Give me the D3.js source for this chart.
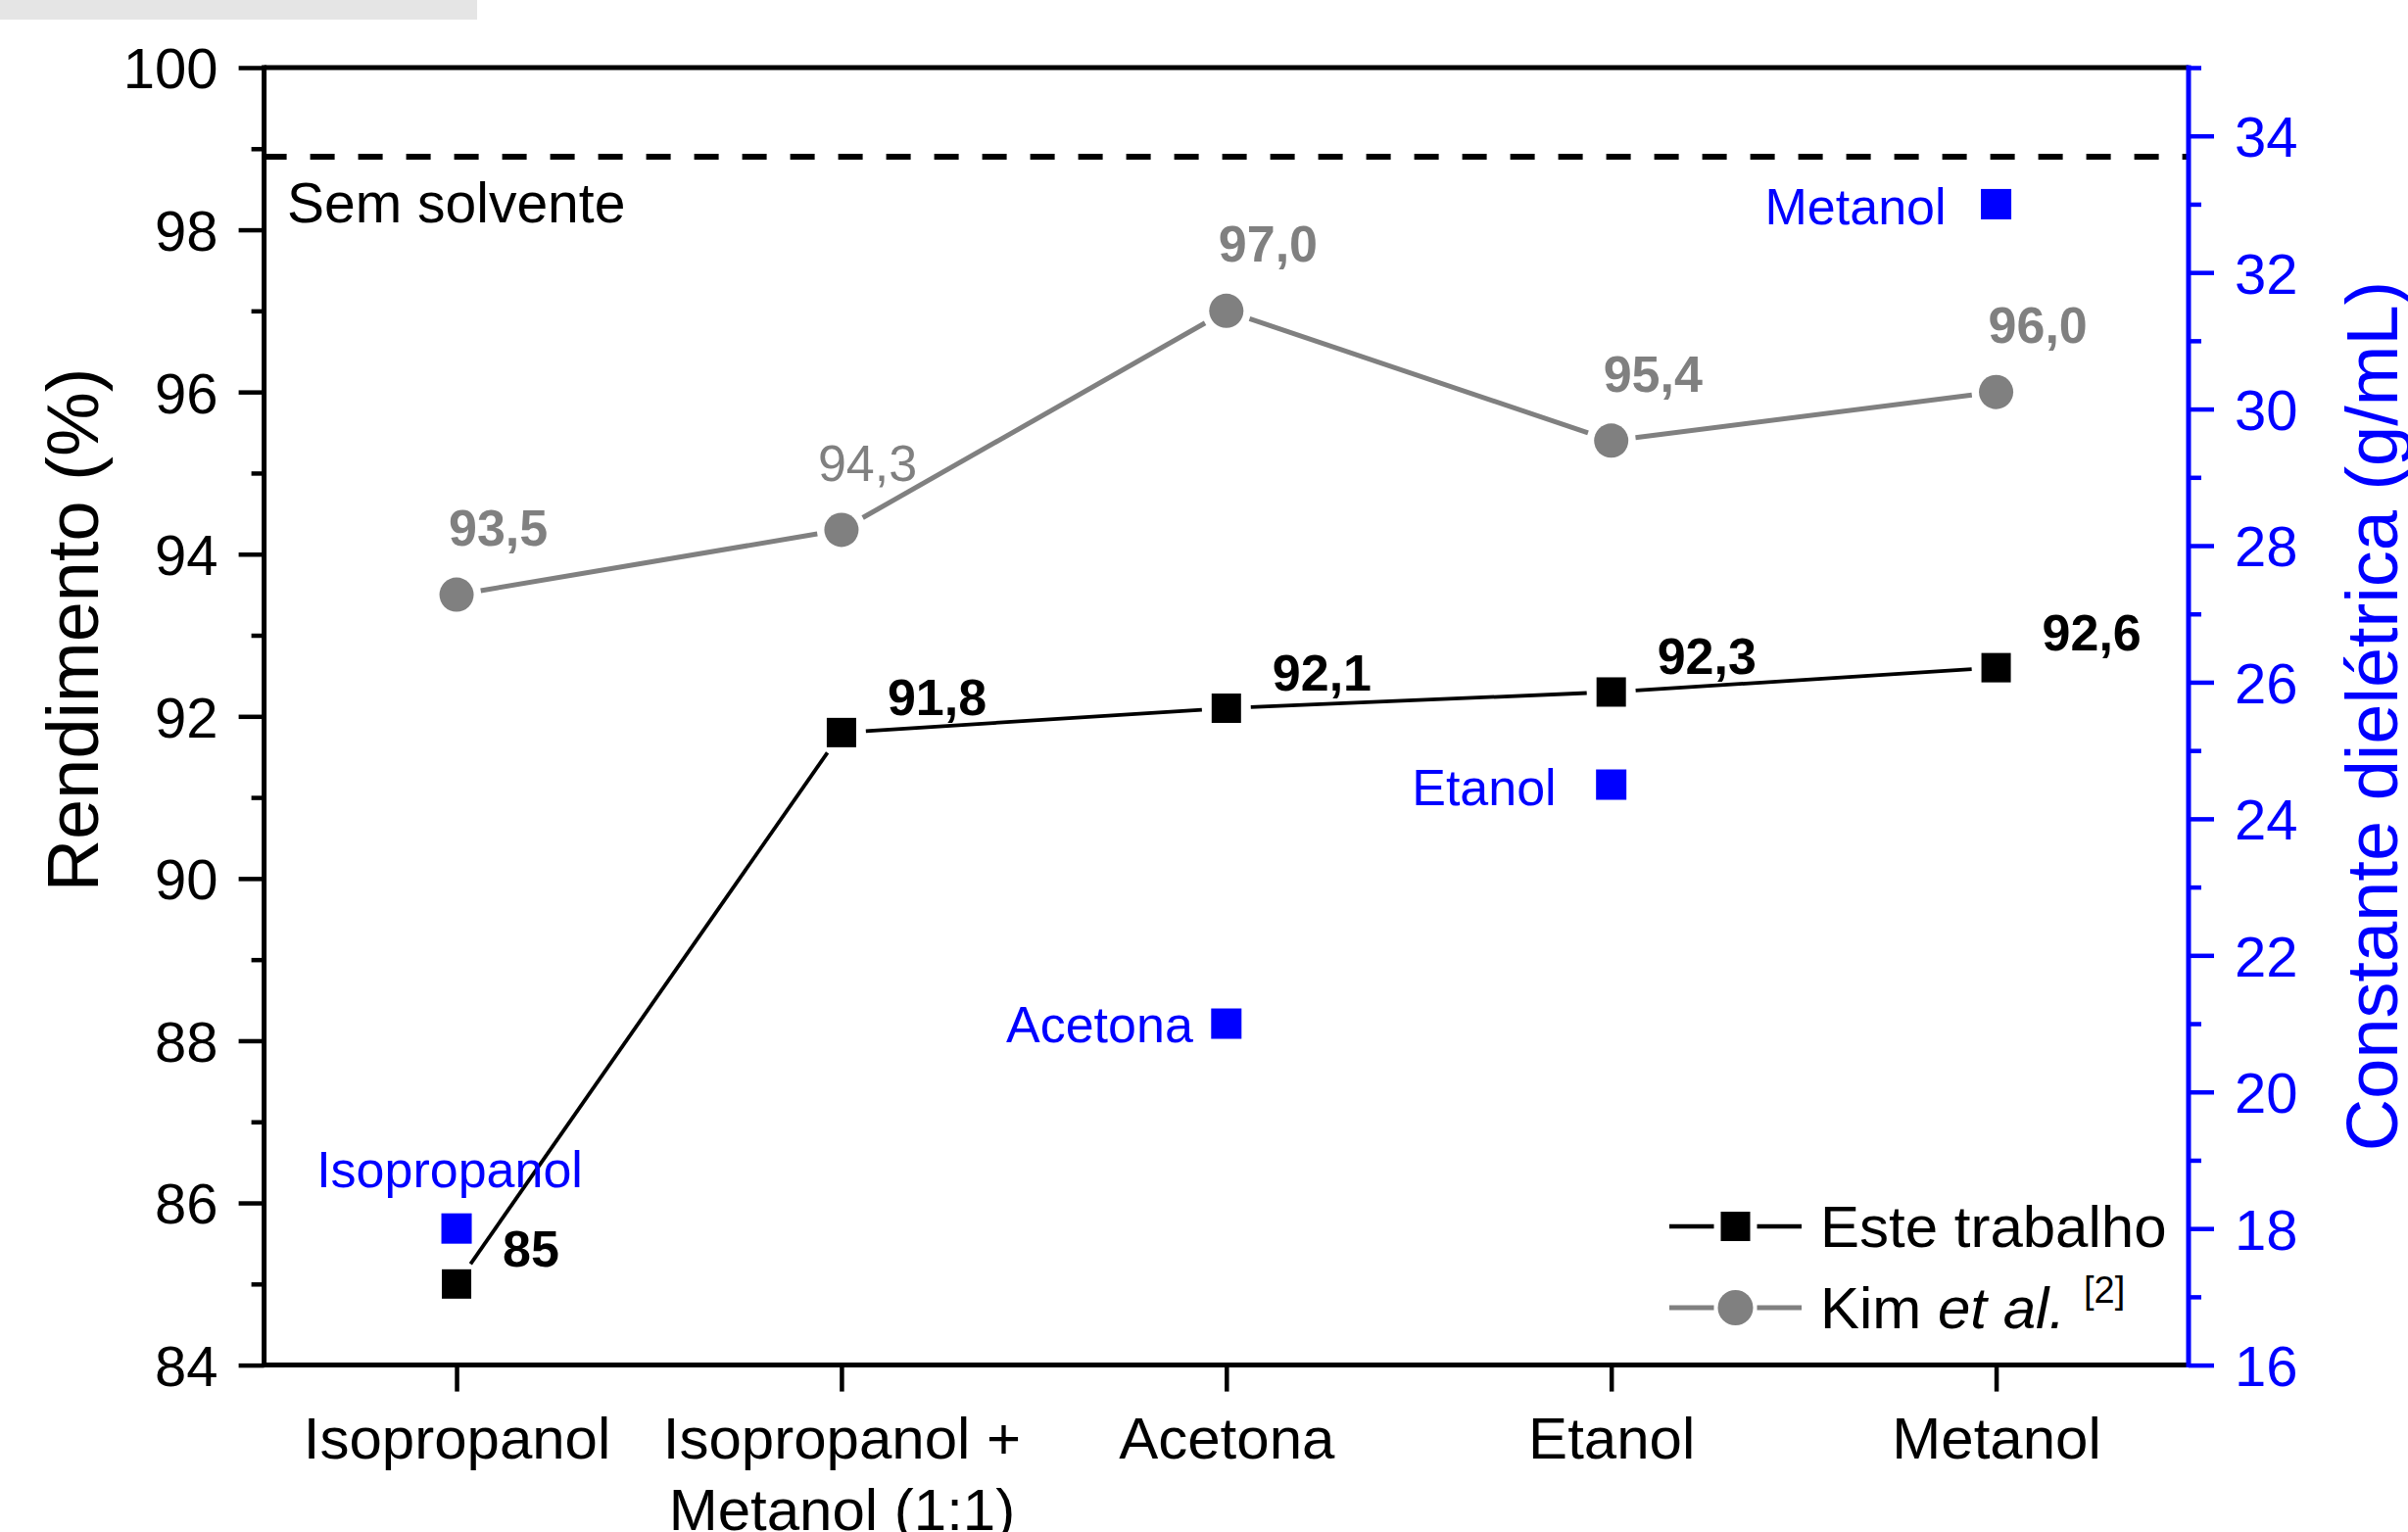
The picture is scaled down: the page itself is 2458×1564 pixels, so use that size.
<!DOCTYPE html>
<html>
<head>
<meta charset="utf-8">
<script src="https://cdn.jsdelivr.net/npm/d3@7"></script>
<style>
  html, body { margin: 0; padding: 0; background: #ffffff; }
  svg { display: block; font-family: "Liberation Sans", Arial, sans-serif; }
</style>
</head>
<body>
<svg id="chart" width="2458" height="1564"></svg>
<script>
// ---- data ----
const categories = ["Isopropanol", "Isopropanol +\nMetanol (1:1)", "Acetona", "Etanol", "Metanol"];
const esteTrabalho = [85, 91.8, 92.1, 92.3, 92.6];          // rendimento (%) deste trabalho
const kimEtAl = [93.5, 94.3, 97.0, 95.4, 96.0];             // rendimento (%) Kim et al.
const dielectricSolvents = ["Isopropanol", "Acetona", "Etanol", "Metanol"];
const dielectricCategories = ["Isopropanol", "Acetona", "Etanol", "Metanol"];
const dielectricValues = [18.0, 21.0, 24.5, 33.0];          // constante dielétrica
const semSolvente = 98.9;                                    // rendimento sem solvente
const leftTicks = [84, 86, 88, 90, 92, 94, 96, 98, 100];
const leftMinorTicks = [85, 87, 89, 91, 93, 95, 97, 99];
const rightTicks = [16, 18, 20, 22, 24, 26, 28, 30, 32, 34];
const rightMinorTicks = [17, 19, 21, 23, 25, 27, 29, 31, 33, 35];

// ---- layout ----
const W = 2458, H = 1564;
const plot = { left: 269.6, right: 2234, top: 69, bottom: 1393.6 };
const BLUE = "#0000ff", GRAY = "#808080", BLACK = "#000000";

const svg = d3.select("#chart");

const x = d3.scalePoint().domain(categories).range([plot.left, plot.right]).padding(0.5);
const yL = d3.scaleLinear().domain([84, 100]).range([plot.bottom, plot.top]);
const yR = d3.scaleLinear().domain([16, 35]).range([plot.bottom, plot.top]);

const catOf = name => categories.find(c => c.replace("\n", " ") === name || c === name);

// strip in the top-left corner
svg.append("rect").attr("x", 0).attr("y", 0).attr("width", 487).attr("height", 20).attr("fill", "#e5e5e5");

// reference line: reaction without solvent
svg.append("line")
  .attr("x1", plot.left - 2).attr("x2", plot.right)
  .attr("y1", yL(semSolvente)).attr("y2", yL(semSolvente))
  .attr("stroke", BLACK).attr("stroke-width", 6).attr("stroke-dasharray", "25,24");
svg.append("text")
  .attr("x", 293).attr("y", yL(semSolvente) + 67)
  .attr("font-size", 57).attr("fill", BLACK).text("Sem solvente");

// line segments that stop short of the symbols
function gappedSegments(values, gap) {
  const pts = values.map((v, i) => [x(categories[i]), yL(v)]);
  const segs = [];
  for (let i = 0; i < pts.length - 1; i++) {
    const [x0, y0] = pts[i], [x1, y1] = pts[i + 1];
    const len = Math.hypot(x1 - x0, y1 - y0), ux = (x1 - x0) / len, uy = (y1 - y0) / len;
    segs.push([x0 + ux * gap, y0 + uy * gap, x1 - ux * gap, y1 - uy * gap]);
  }
  return segs;
}

const gLines = svg.append("g");
gLines.selectAll("line.kim").data(gappedSegments(kimEtAl, 25)).join("line")
  .attr("class", "kim")
  .attr("x1", d => d[0]).attr("y1", d => d[1]).attr("x2", d => d[2]).attr("y2", d => d[3])
  .attr("stroke", GRAY).attr("stroke-width", 5);
gLines.selectAll("line.este").data(gappedSegments(esteTrabalho, 25)).join("line")
  .attr("class", "este")
  .attr("x1", d => d[0]).attr("y1", d => d[1]).attr("x2", d => d[2]).attr("y2", d => d[3])
  .attr("stroke", BLACK).attr("stroke-width", 3.8);

// symbols
const SQ = 30, BSQ = 31, R = 17.5;
svg.append("g").selectAll("circle").data(kimEtAl).join("circle")
  .attr("cx", (d, i) => x(categories[i])).attr("cy", d => yL(d)).attr("r", R).attr("fill", GRAY);
svg.append("g").selectAll("rect").data(esteTrabalho).join("rect")
  .attr("x", (d, i) => x(categories[i]) - SQ / 2).attr("y", d => yL(d) - SQ / 2)
  .attr("width", SQ).attr("height", SQ).attr("fill", BLACK);
svg.append("g").selectAll("rect").data(dielectricValues).join("rect")
  .attr("x", (d, i) => x(catOf(dielectricCategories[i])) - BSQ / 2).attr("y", d => yR(d) - BSQ / 2)
  .attr("width", BSQ).attr("height", BSQ).attr("fill", BLUE);

// value labels
const loc = d3.formatLocale({ decimal: ",", thousands: ".", grouping: [3], currency: ["", ""] });
const fmtKim = loc.format(".1f"), fmtEste = loc.format(".1~f");
const kimDx = [-8, -24, -8, -8, -8], kimWeight = ["bold", "normal", "bold", "bold", "bold"];
svg.append("g").selectAll("text").data(kimEtAl).join("text")
  .attr("x", (d, i) => x(categories[i]) + kimDx[i]).attr("y", d => yL(d) - 50)
  .attr("font-size", 52).attr("font-weight", (d, i) => kimWeight[i]).attr("fill", GRAY)
  .text(d => fmtKim(d));
svg.append("g").selectAll("text").data(esteTrabalho).join("text")
  .attr("x", (d, i) => x(categories[i]) + 47).attr("y", d => yL(d) - 18)
  .attr("font-size", 52).attr("font-weight", "bold").attr("fill", BLACK)
  .text(d => fmtEste(d));

// solvent names next to the dielectric constant symbols
const solventLabelPos = [
  { anchor: "middle", dx: -7, dy: -42 },
  { anchor: "end", dx: -34, dy: 19 },
  { anchor: "end", dx: -56, dy: 21 },
  { anchor: "end", dx: -51, dy: 21 }
];
svg.append("g").selectAll("text").data(dielectricValues).join("text")
  .attr("x", (d, i) => x(catOf(dielectricCategories[i])) + solventLabelPos[i].dx)
  .attr("y", d => yR(d)).attr("dy", (d, i) => solventLabelPos[i].dy)
  .attr("text-anchor", (d, i) => solventLabelPos[i].anchor)
  .attr("font-size", 52).attr("fill", BLUE)
  .text((d, i) => dielectricSolvents[i]);

// ---- axes ----
function styleAxis(g, color, width) {
  g.select(".domain").remove();
  g.selectAll(".tick line").attr("stroke", color).attr("stroke-width", width);
}

// left
const axL = svg.append("g").attr("transform", `translate(${plot.left},0)`)
  .call(d3.axisLeft(yL).tickValues(leftTicks).tickSize(26).tickPadding(21).tickFormat(d3.format("d")));
styleAxis(axL, BLACK, 4.5);
axL.selectAll(".tick text").attr("font-size", 58).attr("fill", BLACK).attr("dy", "0.36em")
  .attr("font-family", "'Liberation Sans', Arial, sans-serif");
const axLm = svg.append("g").attr("transform", `translate(${plot.left},0)`)
  .call(d3.axisLeft(yL).tickValues(leftMinorTicks).tickSize(13).tickFormat(""));
styleAxis(axLm, BLACK, 4.5);

// right
const axR = svg.append("g").attr("transform", `translate(${plot.right},0)`)
  .call(d3.axisRight(yR).tickValues(rightTicks).tickSize(26).tickPadding(21).tickFormat(d3.format("d")));
styleAxis(axR, BLUE, 4.5);
axR.selectAll(".tick text").attr("font-size", 58).attr("fill", BLUE).attr("dy", "0.36em")
  .attr("font-family", "'Liberation Sans', Arial, sans-serif");
const axRm = svg.append("g").attr("transform", `translate(${plot.right},0)`)
  .call(d3.axisRight(yR).tickValues(rightMinorTicks).tickSize(13).tickFormat(""));
styleAxis(axRm, BLUE, 4.5);

// bottom
const axB = svg.append("g").attr("transform", `translate(0,${plot.bottom})`)
  .call(d3.axisBottom(x).tickSize(27).tickFormat(""));
styleAxis(axB, BLACK, 4.5);
axB.selectAll(".tick").each(function (d) {
  const t = d3.select(this).append("text")
    .attr("text-anchor", "middle").attr("font-size", 60).attr("fill", BLACK)
    .attr("font-family", "'Liberation Sans', Arial, sans-serif");
  d.split("\n").forEach((line, k) => {
    t.append("tspan").attr("x", 0).attr("y", 95 + k * 73).text(line);
  });
});

// frame
svg.append("line").attr("x1", plot.left).attr("x2", plot.right).attr("y1", plot.top).attr("y2", plot.top)
  .attr("stroke", BLACK).attr("stroke-width", 5);
svg.append("line").attr("x1", plot.left).attr("x2", plot.right + 2).attr("y1", plot.bottom).attr("y2", plot.bottom)
  .attr("stroke", BLACK).attr("stroke-width", 5);
svg.append("line").attr("x1", plot.left).attr("x2", plot.left).attr("y1", plot.top - 2.5).attr("y2", plot.bottom + 2.5)
  .attr("stroke", BLACK).attr("stroke-width", 5);
svg.append("line").attr("x1", plot.right).attr("x2", plot.right).attr("y1", plot.top - 2.5).attr("y2", plot.bottom + 2.5)
  .attr("stroke", BLUE).attr("stroke-width", 5);

// axis titles
svg.append("text").attr("transform", `translate(100,643) rotate(-90)`)
  .attr("text-anchor", "middle").attr("font-size", 74).attr("fill", BLACK).text("Rendimento (%)");
svg.append("text").attr("transform", `translate(2447,731) rotate(-90)`)
  .attr("text-anchor", "middle").attr("font-size", 74).attr("fill", BLUE).text("Constante dielétrica (g/mL)");

// ---- legend ----
const legend = svg.append("g");
const lgX0 = 1704, lgX1 = 1839, lgCx = 1771.5, lgText = 1858;
const rows = [
  { y: 1252, color: BLACK, sym: "square", width: 4.5 },
  { y: 1335, color: GRAY, sym: "circle", width: 5 }
];
rows.forEach(r => {
  legend.append("line").attr("x1", lgX0).attr("x2", lgCx - 22).attr("y1", r.y).attr("y2", r.y)
    .attr("stroke", r.color).attr("stroke-width", r.width);
  legend.append("line").attr("x1", lgCx + 22).attr("x2", lgX1).attr("y1", r.y).attr("y2", r.y)
    .attr("stroke", r.color).attr("stroke-width", r.width);
  if (r.sym === "square") {
    legend.append("rect").attr("x", lgCx - 15).attr("y", r.y - 15).attr("width", 30).attr("height", 30).attr("fill", r.color);
  } else {
    legend.append("circle").attr("cx", lgCx).attr("cy", r.y).attr("r", 18).attr("fill", r.color);
  }
});
legend.append("text").attr("x", lgText).attr("y", 1273).attr("font-size", 60).attr("fill", BLACK).text("Este trabalho");
const kimText = legend.append("text").attr("x", lgText).attr("y", 1356).attr("font-size", 60).attr("fill", BLACK);
kimText.append("tspan").text("Kim ");
kimText.append("tspan").attr("font-style", "italic").text("et al.");
legend.append("text").attr("x", 2127).attr("y", 1330).attr("font-size", 38).attr("fill", BLACK).text("[2]");
</script>
</body>
</html>
